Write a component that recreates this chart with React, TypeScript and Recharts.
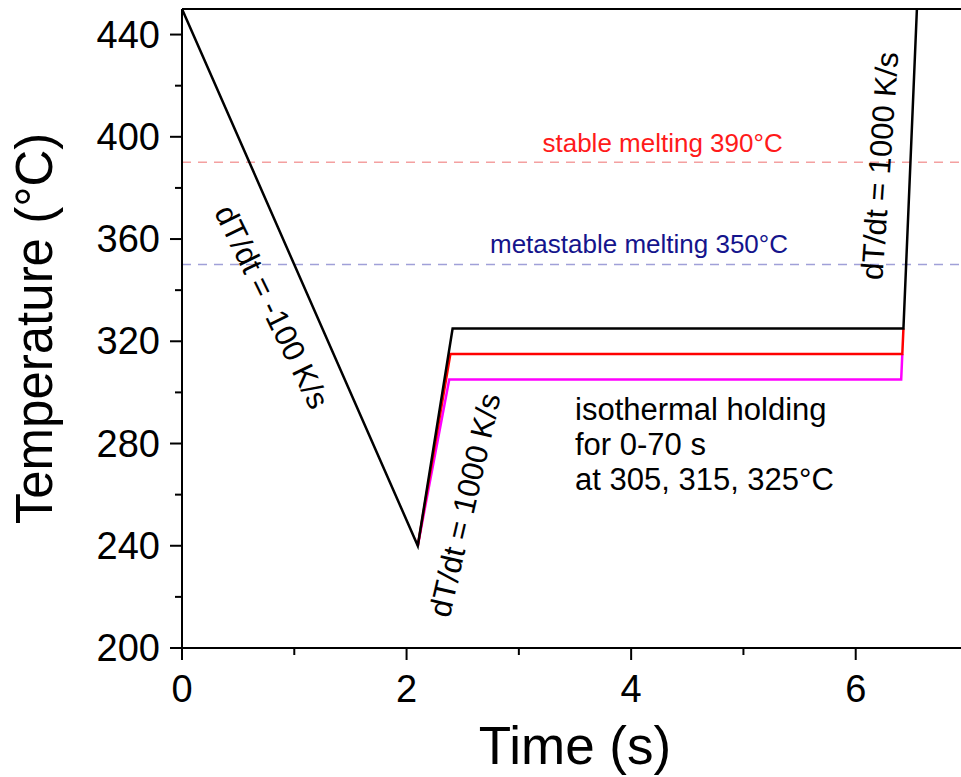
import React from 'react';
import { LineChart, Line, XAxis, YAxis, ReferenceLine, ReferenceDot } from 'recharts';

const FONT = '"Liberation Sans", Arial, sans-serif';

// time (s) and temperature (°C) of the three thermal profiles
const blackTime = [0, 2.1, 2.41, 6.425, 6.545];
const blackTemp = [450, 240, 325, 325, 450];
const redTime = [2.1, 2.39, 6.415, 6.425];
const redTemp = [240, 315, 315, 325];
const magentaTime = [2.1, 2.38, 6.405, 6.415];
const magentaTemp = [240, 305, 305, 315];

const xTicks = [0, 1, 2, 3, 4, 5, 6, 7];
const yTicks = [200, 220, 240, 260, 280, 300, 320, 340, 360, 380, 400, 420, 440];
const stableMelt = 390;
const metastableMelt = 350;

const toData = (t: number[], v: number[]) => t.map((x, i) => ({ x, y: v[i] }));
const blackData = toData(blackTime, blackTemp);
const redData = toData(redTime, redTemp);
const magentaData = toData(magentaTime, magentaTemp);

const XTick = (props: any) => {
  const { x, y, payload } = props;
  const v = payload.value;
  const major = v % 2 === 0;
  return (
    <g>
      <line x1={x} x2={x} y1={y} y2={y + (major ? 12 : 7)} stroke="#000" strokeWidth={2} />
      {major && (
        <text x={x} y={y + 54} textAnchor="middle" fontSize={38} fill="#000" fontFamily={FONT}>
          {v}
        </text>
      )}
    </g>
  );
};

const YTick = (props: any) => {
  const { x, y, payload } = props;
  const v = payload.value;
  const major = (v - 200) % 40 === 0;
  return (
    <g>
      <line x1={x} x2={x - (major ? 12 : 7)} y1={y} y2={y} stroke="#000" strokeWidth={2} />
      {major && (
        <text x={x - 22} y={y + 13} textAnchor="end" fontSize={38} fill="#000" fontFamily={FONT}>
          {v}
        </text>
      )}
    </g>
  );
};

const center = (vb: any) => ({ cx: vb.x + vb.width / 2, cy: vb.y + vb.height / 2 });

const rotLabel = (text: string, angle: number, size = 31, color = '#000') => (p: any) => {
  const { cx, cy } = center(p.viewBox);
  return (
    <text
      x={cx}
      y={cy}
      transform={`rotate(${angle} ${cx} ${cy})`}
      textAnchor="middle"
      dominantBaseline="central"
      fontSize={size}
      fill={color}
      fontFamily={FONT}
    >
      {text}
    </text>
  );
};

const aboveLabel = (text: string, dy: number, size: number, color: string) => (p: any) => {
  const { cx, cy } = center(p.viewBox);
  return (
    <text x={cx} y={cy - dy} textAnchor="middle" fontSize={size} fill={color} fontFamily={FONT}>
      {text}
    </text>
  );
};

const isoLines = ['isothermal holding', 'for 0-70 s', 'at 305, 315, 325°C'];
const isoLabel = (p: any) => {
  const { cx, cy } = center(p.viewBox);
  return (
    <text x={cx} y={cy} fontSize={31} fill="#000" fontFamily={FONT}>
      {isoLines.map((l, i) => (
        <tspan key={i} x={cx} y={cy + i * 35}>
          {l}
        </tspan>
      ))}
    </text>
  );
};

const xTitle = (p: any) => {
  const vb = p.viewBox;
  return (
    <text x={vb.x + vb.width / 2} y={vb.y + 116} textAnchor="middle" fontSize={53} fill="#000" fontFamily={FONT}>
      Time (s)
    </text>
  );
};

const yTitle = (p: any) => {
  const vb = p.viewBox;
  const cx = vb.x + 52;
  const cy = vb.y + vb.height / 2;
  return (
    <text x={cx} y={cy} transform={`rotate(-90 ${cx} ${cy})`} textAnchor="middle" fontSize={51} fill="#000" fontFamily={FONT}>
      Temperature (°C)
    </text>
  );
};

export default function App() {
  return (
    <div style={{ position: 'absolute', left: 0, top: 0, width: 961, height: 777, overflow: 'hidden', background: '#fff' }}>
      <LineChart width={968} height={777} margin={{ top: 9, right: 0, bottom: 0, left: 0 }}>
        <XAxis
          dataKey="x"
          type="number"
          domain={[0, 7]}
          ticks={xTicks}
          interval={0}
          height={129}
          tickSize={0}
          tickMargin={0}
          tickLine={false}
          tick={<XTick />}
          axisLine={{ stroke: '#000', strokeWidth: 2 }}
          label={{ content: xTitle }}
        />
        <YAxis
          type="number"
          domain={[200, 450]}
          ticks={yTicks}
          interval={0}
          width={182}
          tickSize={0}
          tickMargin={0}
          tickLine={false}
          tick={<YTick />}
          axisLine={{ stroke: '#000', strokeWidth: 2 }}
          label={{ content: yTitle }}
        />
        <ReferenceLine y={450} stroke="#000" strokeWidth={2} />
        <ReferenceLine y={stableMelt} stroke="#f4a0a0" strokeWidth={1.5} strokeDasharray="9 7" />
        <ReferenceLine y={metastableMelt} stroke="#a0a0d8" strokeWidth={1.5} strokeDasharray="9 7" />
        <Line data={magentaData} dataKey="y" stroke="#ff00ff" strokeWidth={2.5} dot={false} isAnimationActive={false} />
        <Line data={redData} dataKey="y" stroke="#ff0000" strokeWidth={2.5} dot={false} isAnimationActive={false} />
        <Line data={blackData} dataKey="y" stroke="#000" strokeWidth={2.5} dot={false} isAnimationActive={false} />
        <ReferenceDot x={4.28} y={stableMelt} r={0} fill="none" stroke="none" label={{ content: aboveLabel('stable melting 390°C', 10, 26, '#ff1a1a') }} />
        <ReferenceDot x={4.07} y={metastableMelt} r={0} fill="none" stroke="none" label={{ content: aboveLabel('metastable melting 350°C', 12, 26, '#14148c') }} />
        <ReferenceDot x={0.8} y={333.4} r={0} fill="none" stroke="none" label={{ content: rotLabel('dT/dt = -100 K/s', 64) }} />
        <ReferenceDot x={2.52} y={255.9} r={0} fill="none" stroke="none" label={{ content: rotLabel('dT/dt = 1000 K/s', -77) }} />
        <ReferenceDot x={6.215} y={388.6} r={0} fill="none" stroke="none" label={{ content: rotLabel('dT/dt = 1000 K/s', -86) }} />
        <ReferenceDot x={3.5} y={289.2} r={0} fill="none" stroke="none" label={{ content: isoLabel }} />
      </LineChart>
    </div>
  );
}
